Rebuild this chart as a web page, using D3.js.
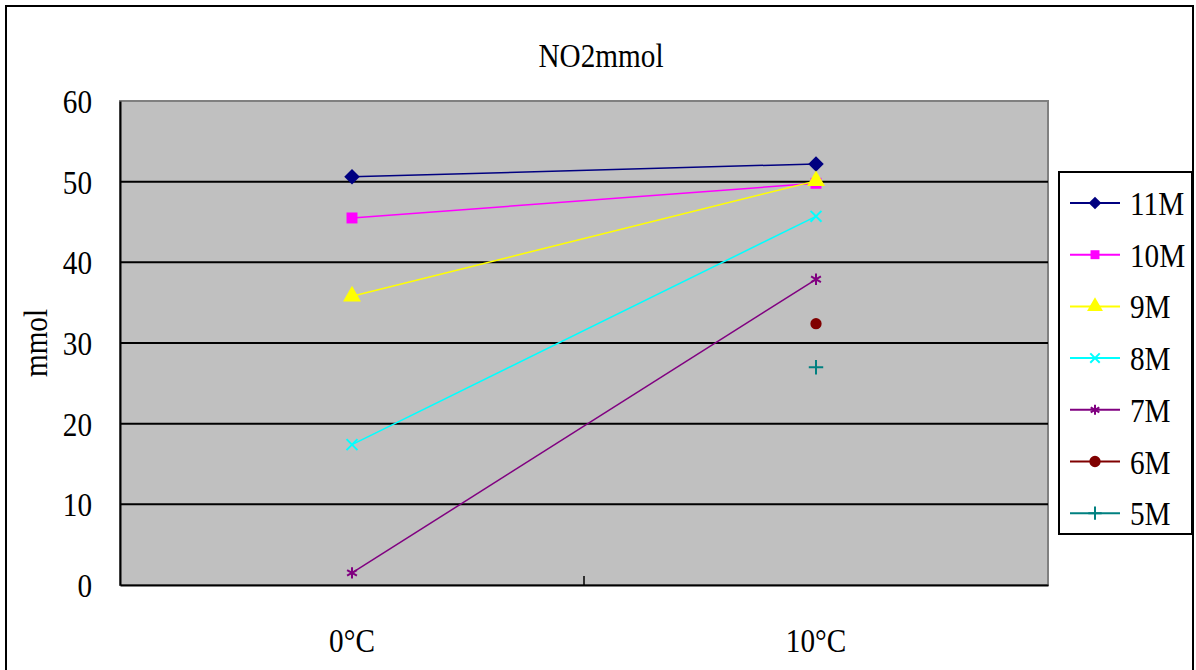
<!DOCTYPE html>
<html>
<head>
<meta charset="utf-8">
<script src="https://cdn.jsdelivr.net/npm/d3@7"></script>
<style>
  html, body { margin: 0; padding: 0; background: #fff; }
  svg { display: block; }
  text { font-family: "Liberation Serif", "Times New Roman", serif; fill: #000; }
</style>
</head>
<body>
<svg id="chart" width="1196" height="670"></svg>
<script>
// Temperatures on the x axis
const categories = ["0°C", "10°C"];
// Series names (legend order)
const seriesNames = ["11M", "10M", "9M", "8M", "7M", "6M", "5M"];
// NO2 values (mmol) per series, one per temperature; null = not measured
const values11M = [50.6, 52.2];
const values10M = [45.5, 49.8];
const values9M  = [35.8, 50.1];
const values8M  = [17.4, 45.7];
const values7M  = [1.5, 37.9];
const values6M  = [null, 32.4];
const values5M  = [null, 27.0];
// Y axis ticks
const yTicks = [0, 10, 20, 30, 40, 50, 60];

const seriesValues = [values11M, values10M, values9M, values8M, values7M, values6M, values5M];
const colors = ["#000080", "#FF00FF", "#FFFF00", "#00FFFF", "#800080", "#800000", "#008080"];

// Square diamond (d3's built-in diamond is elongated)
const symbolSquareDiamond = {
  draw(ctx, size) {
    const r = Math.sqrt(size / 2);
    ctx.moveTo(0, -r); ctx.lineTo(r, 0); ctx.lineTo(0, r); ctx.lineTo(-r, 0); ctx.closePath();
  }
};
const symbols = [symbolSquareDiamond, d3.symbolSquare, d3.symbolTriangle, d3.symbolTimes,
                 d3.symbolAsterisk, d3.symbolCircle, d3.symbolPlus];
const filled = [true, true, true, false, false, true, false];
const plotSizes = [120, 120, 140, 80, 90, 100, 70];
const legendSizes = [80, 80, 110, 60, 70, 100, 60];

const svg = d3.select("#chart");
const W = 1196, H = 670;
const plot = { left: 120, right: 1048, top: 101, bottom: 585 };

// Condensed serif label: tall, narrow glyphs
function label(g, px, py, str, anchor, extra) {
  return g.append("text")
    .attr("transform", `translate(${px},${py})${extra || ""} scale(0.86,1)`)
    .attr("text-anchor", anchor || "start")
    .attr("font-size", 34)
    .text(str);
}

// Outer chart frame
svg.append("rect")
  .attr("x", 6).attr("y", 6).attr("width", 1187).attr("height", H + 10)
  .attr("fill", "#fff").attr("stroke", "#000").attr("stroke-width", 2);

const x = d3.scaleBand().domain(categories).range([plot.left, plot.right]);
const y = d3.scaleLinear().domain([0, 60]).range([plot.bottom, plot.top]);
const cx = c => x(c) + x.bandwidth() / 2;

// Plot area
svg.append("rect")
  .attr("x", plot.left).attr("y", plot.top)
  .attr("width", plot.right - plot.left).attr("height", plot.bottom - plot.top)
  .attr("fill", "#C0C0C0").attr("stroke", "#808080").attr("stroke-width", 2);

// Horizontal gridlines
svg.append("g").selectAll("line")
  .data(yTicks.filter(t => t > 0 && t < 60))
  .join("line")
  .attr("x1", plot.left).attr("x2", plot.right)
  .attr("y1", d => y(d)).attr("y2", d => y(d))
  .attr("stroke", "#000").attr("stroke-width", 2);

// Y axis line
const yAxis = svg.append("g")
  .attr("transform", `translate(${plot.left},0)`)
  .call(d3.axisLeft(y).tickValues(yTicks).tickSize(0).tickFormat(""));
yAxis.select(".domain").attr("stroke", "#000").attr("stroke-width", 2);
// Y tick labels
const yLabels = svg.append("g");
yTicks.forEach(t => label(yLabels, 92, y(t) + 12, String(t), "end"));

// X axis line
const xAxis = svg.append("g")
  .attr("transform", `translate(0,${plot.bottom})`)
  .call(d3.axisBottom(x).tickSize(0).tickFormat(""));
xAxis.select(".domain").attr("stroke", "#000").attr("stroke-width", 2);
// Category separator tick (drawn inward)
svg.append("line")
  .attr("x1", x(categories[1])).attr("x2", x(categories[1]))
  .attr("y1", plot.bottom).attr("y2", plot.bottom - 9)
  .attr("stroke", "#000").attr("stroke-width", 1.5);
// X category labels
const xLabels = svg.append("g");
categories.forEach(c => label(xLabels, cx(c), 652, c, "middle"));

// Title
label(svg, 601, 67, "NO2mmol", "middle");

// Y axis title
label(svg, 47, 343, "mmol", "middle", " rotate(-90)");

// Series lines and markers
seriesValues.forEach((vals, i) => {
  const pts = categories.map((c, j) => ({ c, v: vals[j] }));
  const line = d3.line().defined(d => d.v != null).x(d => cx(d.c)).y(d => y(d.v));
  svg.append("path").datum(pts)
    .attr("d", line).attr("fill", "none")
    .attr("stroke", colors[i]).attr("stroke-width", 1.5);
  svg.append("g").selectAll("path")
    .data(pts.filter(d => d.v != null))
    .join("path")
    .attr("transform", d => `translate(${cx(d.c)},${y(d.v)})`)
    .attr("d", d3.symbol().type(symbols[i]).size(plotSizes[i]))
    .attr("fill", filled[i] ? colors[i] : "none")
    .attr("stroke", filled[i] ? "none" : colors[i])
    .attr("stroke-width", 2);
});

// Legend
const legend = svg.append("g");
legend.append("rect")
  .attr("x", 1059).attr("y", 172).attr("width", 133).attr("height", 362)
  .attr("fill", "#fff").attr("stroke", "#000").attr("stroke-width", 2);
seriesNames.forEach((name, i) => {
  const ry = 203 + i * 51.7;
  legend.append("line")
    .attr("x1", 1070).attr("x2", 1120).attr("y1", ry).attr("y2", ry)
    .attr("stroke", colors[i]).attr("stroke-width", 2);
  legend.append("path")
    .attr("transform", `translate(1095,${ry})`)
    .attr("d", d3.symbol().type(symbols[i]).size(legendSizes[i]))
    .attr("fill", filled[i] ? colors[i] : "none")
    .attr("stroke", filled[i] ? "none" : colors[i])
    .attr("stroke-width", 2);
  label(legend, 1130, ry + 12, name, "start");
});
</script>
</body>
</html>
